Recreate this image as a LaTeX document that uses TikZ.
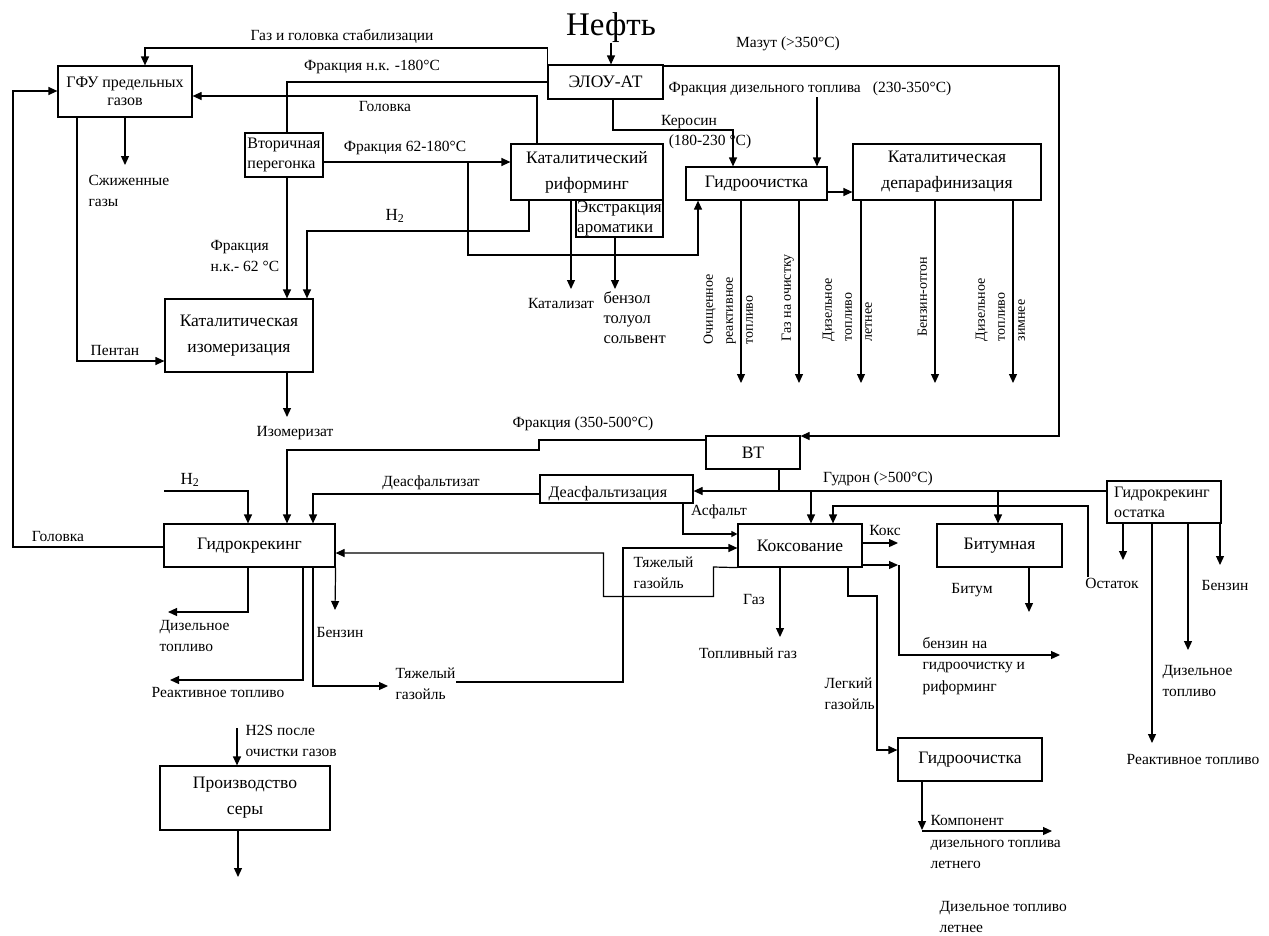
\documentclass[tikz,border=0pt]{standalone}
\usepackage{fontspec}
\setmainfont{Liberation Serif}
\usetikzlibrary{arrows.meta}
\tikzset{
  box/.style={draw, inner sep=0pt, align=center},
  bx/.style={font=\fontsize{17.5}{26}\selectfont},
  bs/.style={font=\fontsize{16}{20}\selectfont},
  lbl/.style={inner sep=0pt, align=left, font=\fontsize{15.5}{21.5}\selectfont},
  rl/.style={inner sep=0pt, align=left, rotate=90, anchor=north west, font=\fontsize{14}{20}\selectfont},
  arr/.style={-{Triangle[length=9pt,width=8pt]}},
}
\begin{document}
\begin{tikzpicture}[x=1pt,y=-1pt,line width=1.2pt]
\useasboundingbox (0,0) rectangle (1269,935);
\fill[white] (0,0) rectangle (1269,935);
\clip (0,0) rectangle (1269,935);

% ---------- boxes ----------
\node[box,font=\fontsize{16}{18}\selectfont,minimum width=134pt,minimum height=51pt] (gfu) at (125,91.5) {ГФУ предельных\\газов};
\node[box,bx,minimum width=115pt,minimum height=34pt] (elou) at (605.5,82) {ЭЛОУ-АТ};
\node[box,bs,align=left,minimum width=78pt,minimum height=44pt] (vtor) at (284,155) {Вторичная\\перегонка};
\node[box,bx,minimum width=152pt,minimum height=56pt] (reform) at (587,172) {Каталитический\\риформинг};
\node[box,font=\fontsize{17}{20}\selectfont,align=left,minimum width=87pt,minimum height=37pt] (extr) at (619.5,218.5) {Экстракция\\ароматики};
\node[box,bx,minimum width=141pt,minimum height=33pt] (gidro1) at (756.5,183.5) {Гидроочистка};
\node[box,bx,minimum width=188pt,minimum height=56pt] (depar) at (947,172) {Каталитическая\\депарафинизация};
\node[box,bx,minimum width=148pt,minimum height=73pt] (izom) at (239,335.5) {Каталитическая\\изомеризация};
\node[box,bx,minimum width=94pt,minimum height=33pt] (vt) at (753,452.5) {ВТ};
\node[box,minimum width=153pt,minimum height=28pt] (deasf) at (616.5,489) {};
\node[lbl,font=\fontsize{16}{20}\selectfont,anchor=west] (deasft) at (548,494) {Деасфальтизация};
\node[box,bx,minimum width=171pt,minimum height=43pt] (gk) at (249.5,545.5) {Гидрокрекинг};
\node[box,bx,minimum width=124pt,minimum height=43pt] (koks) at (800,545.5) {Коксование};
\node[box,bx,minimum width=125pt,minimum height=43pt] (bitum) at (999.5,545.5) {Битумная};
\node[box,bs,align=left,text width=100pt,inner xsep=7pt,minimum height=42pt] (gko) at (1164,502) {Гидрокрекинг\\остатка};
\node[box,bx,minimum width=144pt,minimum height=43pt] (gidro2) at (970,759.5) {Гидроочистка};
\node[box,bx,minimum width=170pt,minimum height=64pt] (sera) at (245,798) {Производство\\серы};

% ---------- labels ----------
\node[inner sep=0pt,anchor=base,font=\fontsize{33}{33}\selectfont] (neft) at (611,35) {Нефть};
\node[lbl] (l1) at (342,36) {Газ и головка стабилизации};
\node[lbl] (l2) at (372,67) {Фракция н.к. -180°C};
\node[lbl] (l3) at (385,106) {Головка};
\node[lbl] (l4) at (405,148) {Фракция 62-180°C};
\node[lbl,font=\fontsize{17}{20}\selectfont] (l5) at (395,216) {H\textsubscript{2}};
\node[lbl,anchor=west] (l6) at (210,256) {Фракция\\н.к.- 62 °C};
\node[lbl,anchor=west] (l7) at (88,191) {Сжиженные\\газы};
\node[lbl] (l8) at (115,350) {Пентан};
\node[lbl] (l9) at (295,433) {Изомеризат};
\node[lbl] (l10) at (561,303) {Катализат};
\node[lbl,font=\fontsize{16.5}{20}\selectfont,anchor=west] (l11) at (603,318) {бензол\\толуол\\сольвент};
\node[lbl] (l12) at (689,122) {Керосин};
\node[lbl] (l13) at (710,142) {(180-230 °C)};
\node[lbl] (l14) at (788,44) {Мазут (>350°C)};
\node[lbl,anchor=west] (l15) at (668,89) {Фракция дизельного топлива\hspace{12pt}(230-350°C)};
\node[rl] (r1) at (703,345) {Очищенное\\реактивное\\топливо};
\node[rl] (r2) at (781,342) {Газ на очистку};
\node[rl] (r3) at (822,342) {Дизельное\\топливо\\летнее};
\node[rl] (r4) at (917,337) {Бензин-отгон};
\node[rl] (r5) at (975,342) {Дизельное\\топливо\\зимнее};
\node[lbl] (l16) at (583,424) {Фракция (350-500°C)};
\node[lbl] (l17) at (431,483) {Деасфальтизат};
\node[lbl] (l18) at (878,479) {Гудрон (>500°C)};
\node[lbl] (l19) at (719,512) {Асфальт};
\node[lbl,anchor=west] (l20) at (633,573) {Тяжелый\\газойль};
\node[lbl] (l21) at (885,530) {Кокс};
\node[lbl] (l22) at (972,590) {Битум};
\node[lbl] (ostatok) at (1112,583) {Остаток};
\node[lbl] (l23) at (1225,585) {Бензин};
\node[lbl,anchor=west] (l24) at (1162,681) {Дизельное\\топливо};
\node[lbl,anchor=west] (l25) at (1126,759) {Реактивное топливо};
\node[lbl] (l26) at (58,536) {Головка};
\node[lbl,font=\fontsize{17}{20}\selectfont] (l27) at (190,480) {H\textsubscript{2}};
\node[lbl,anchor=west] (l28) at (159,636) {Дизельное\\топливо};
\node[lbl] (l29) at (340,632) {Бензин};
\node[lbl] (l30) at (218,692) {Реактивное топливо};
\node[lbl,anchor=west] (tg1) at (395,684) {Тяжелый\\газойль};
\node[lbl] (l31) at (754,599) {Газ};
\node[lbl] (l32) at (748,653) {Топливный газ};
\node[lbl,anchor=west] (l33) at (824,694) {Легкий\\газойль};
\node[lbl,anchor=west] (l34) at (922,666) {бензин на\\гидроочистку и\\риформинг};
\node[lbl,anchor=west] (l35) at (930,842) {Компонент\\дизельного топлива\\летнего};
\node[lbl,anchor=west] (l36) at (939,917) {Дизельное топливо\\летнее};
\node[lbl,anchor=west] (l37) at (245,741) {H2S после\\очистки газов};

% ---------- connectors ----------
\draw[arr] (neft.south) -- (neft.south |- elou.north);
\draw[arr] (elou.north west) |- (145,48) -- (gfu.north -| 145,0);
\draw (elou.west) -| (vtor.north -| 287,0);
\draw[arr] (vtor.south -| 287,0) -- (izom.north -| 287,0);
\draw[arr] (reform.north -| 537,0) |- (gfu.east |- 0,96);
\draw[arr] (vtor.east |- 0,162) -- (reform.west |- 0,162);
\coordinate (j1) at (468,162);
\draw[arr] (j1) |- (698,255) -- (gidro1.south -| 698,0);
\draw[arr] (reform.south -| 529,0) |- (307,231) -- (izom.north -| 307,0);
\draw[arr] (reform.south -| 571,0) -- (571,289);
\draw[arr] (extr.south -| 615,0) -- (615,289);
\draw[arr] (elou.south -| 613,0) |- (733,130) -- (gidro1.north -| 733,0);
\draw[arr] (elou.east |- 0,66) -| (1059,436) -- (vt.east |- 0,436);
\draw[arr] (817,97) -- (gidro1.north -| 817,0);
\draw[arr] (gidro1.east |- 0,192) -- (depar.west |- 0,192);
\draw[arr] (gidro1.south -| 741,0) -- (741,383);
\draw[arr] (gidro1.south -| 799,0) -- (799,383);
\draw[arr] (depar.south -| 861,0) -- (861,383);
\draw[arr] (depar.south -| 935,0) -- (935,383);
\draw[arr] (depar.south -| 1013,0) -- (1013,383);
% left side
\draw[arr] (gk.west |- 0,547) -| (13,91) -- (gfu.west |- 0,91);
\draw[arr] (gfu.south -| 77,0) |- (izom.west |- 0,361);
\draw[arr] (gfu.south -| 125,0) -- (125,165);
\draw[arr] (izom.south -| 287,0) -- (287,417);
% VT
\draw[arr] (vt.west |- 0,440) -| (539,450) -| (gk.north -| 287,0);
\draw (vt.south -| 779,0) -- (779,491);
\draw[arr] (gko.west |- 0,491) -- (deasf.east |- 0,491);
\draw[arr] (811,491) -- (koks.north -| 811,0);
\draw[arr] (998,491) -- (bitum.north -| 998,0);
\draw[arr] (ostatok.north -| 1088,0) |- (833,506) -- (koks.north -| 833,0);
\draw[arr] (deasf.west |- 0,494) -| (gk.north -| 313,0);
\draw[-{Triangle[length=6pt,width=6pt]}] (deasf.south -| 683,0) |- (koks.west |- 0,534);
% hydrocracking
\draw[arr] (164,491) -| (gk.north -| 248,0);
\draw[arr] (gk.south -| 248,0) |- (168,612);
\draw[arr] (gk.south east) -- (335,610);
\draw[arr] (gk.south -| 303,0) |- (170,680);
\draw[arr] (gk.south -| 313,0) |- (388,686);
\draw[arr] (tg1.east |- 0,682) -| (623,548) -- (koks.west |- 0,548);
\draw[arr] (koks.south west) -- (713.5,567) |- (603.5,596.5) |- (gk.east |- 0,553);
% coking outputs
\draw[arr] (koks.east |- 0,543) -- (898,543);
\draw[arr] (koks.east |- 0,565) -- (898,565);
\draw[arr] (899,565) |- (1060,655);
\draw[arr] (koks.south -| 780,0) -- (780,637);
\draw[arr] (koks.south -| 848,0) |- (877,596) |- (gidro2.west |- 0,750);
\draw[arr] (bitum.south -| 1029,0) -- (1029,612);
% residue hydrocracking outputs
\draw[arr] (gko.south -| 1123,0) -- (1123,560);
\draw[arr] (gko.south -| 1152,0) -- (1152,743);
\draw[arr] (gko.south -| 1188,0) -- (1188,650);
\draw[arr] (gko.south -| 1220,0) -- (1220,565);
% hydrotreating 2
\draw[arr] (gidro2.south -| 922,0) -- (922,830);
\draw[arr] (922,831) -- (1052,831);
% sulfur
\draw[arr] (237,728) -- (sera.north -| 237,0);
\draw[arr] (sera.south -| 238,0) -- (238,877);
\end{tikzpicture}
\end{document}
